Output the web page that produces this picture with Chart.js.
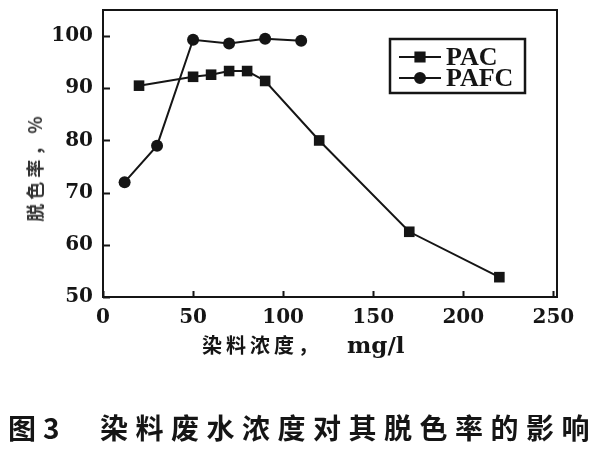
<!DOCTYPE html>
<html>
<head>
<meta charset="utf-8">
<script src="https://cdn.jsdelivr.net/npm/chart.js@4/dist/chart.umd.min.js"></script>
<style>
html, body { margin: 0; padding: 0; background: #fff; }
#wrap { position: relative; width: 600px; height: 450px; overflow: hidden; }
#grafico { position: absolute; left: 0; top: 0; }
.testo { position: absolute; font-family: "Noto Sans CJK SC", sans-serif; font-weight: bold; color: #151515; white-space: nowrap; }
.latino { font-family: "DejaVu Serif", serif; font-size: 23px; letter-spacing: 0; margin-left: 25px; }
#titoloX { left: 202px; top: 331px; font-size: 20px; line-height: 28px; letter-spacing: 4px; }
#titoloY { left: 34px; top: 167px; font-size: 18px; line-height: 24px; letter-spacing: 4px; color: #333;
           transform: translate(-50%, -50%) rotate(-90deg); }
#didascalia { left: 8px; top: 412px; font-size: 28px; line-height: 30px; letter-spacing: 7px; }
#didascalia2 { left: 100px; top: 412px; font-size: 28px; line-height: 30px; letter-spacing: 7.5px; }
</style>
</head>
<body>
<div id="wrap">
  <canvas id="grafico" width="600" height="450"></canvas>
  <div class="testo" id="titoloX">染料浓度，<span class="latino">mg/l</span></div>
  <div class="testo" id="titoloY">脱色率，%</div>
  <div class="testo" id="didascalia">图3</div>
  <div class="testo" id="didascalia2">染料废水浓度对其脱色率的影响</div>
</div>
<script>
// concentrazione colorante (mg/l) e tasso di decolorazione (%)
const pacConc = [20, 50, 60, 70, 80, 90, 120, 170, 220];
const pacRate = [90.5, 92.2, 92.6, 93.3, 93.3, 91.4, 80.0, 62.5, 53.8];
const pafcConc = [12, 30, 50, 70, 90, 110];
const pafcRate = [72.0, 79.0, 99.3, 98.6, 99.5, 99.1];
const xTicks = [0, 50, 100, 150, 200, 250];
const yTicks = [50, 60, 70, 80, 90, 100];

const nero = '#151515';

function punti(xs, ys) {
    return xs.map((x, i) => ({ x: x, y: ys[i] }));
}

// cornice, tacche interne e legenda disegnate a mano
const cornice = {
    id: 'cornice',
    afterDatasetsDraw(chart) {
        const ctx = chart.ctx;
        const a = chart.chartArea;
        const sx = chart.scales.x, sy = chart.scales.y;
        ctx.save();
        ctx.strokeStyle = nero;
        ctx.lineWidth = 2;
        ctx.strokeRect(a.left, a.top, a.right - a.left, a.bottom - a.top);

        ctx.beginPath();
        xTicks.forEach(v => {
            const px = Math.round(sx.getPixelForValue(v)) + 0.5;
            ctx.moveTo(px, a.bottom);
            ctx.lineTo(px, a.bottom - 6);
        });
        yTicks.forEach(v => {
            const py = Math.round(sy.getPixelForValue(v)) + 0.5;
            ctx.moveTo(a.left, py);
            ctx.lineTo(a.left + 7, py);
        });
        ctx.stroke();

        // legenda
        const lx = a.right - 167, ly = a.top + 29;
        ctx.lineWidth = 2.5;
        ctx.strokeRect(lx, ly, 135, 54);
        ctx.font = "bold 26px 'Liberation Serif', serif";
        ctx.textBaseline = 'middle';
        ctx.fillStyle = nero;
        chart.data.datasets.forEach((ds, i) => {
            const y = ly + 18 + i * 21;
            ctx.lineWidth = 2;
            ctx.beginPath();
            ctx.moveTo(lx + 9, y);
            ctx.lineTo(lx + 51, y);
            ctx.stroke();
            Chart.helpers.drawPoint(ctx, { pointStyle: ds.pointStyle, radius: ds.pointRadius - 1, borderWidth: 1 }, lx + 30, y);
            ctx.fillText(ds.label, lx + 56, y + 1);
        });
        ctx.restore();
    }
};

const ctx = document.getElementById('grafico').getContext('2d');
new Chart(ctx, {
    type: 'line',
    data: {
        datasets: [{
            label: 'PAC',
            data: punti(pacConc, pacRate),
            borderColor: nero,
            backgroundColor: nero,
            borderWidth: 2,
            pointStyle: 'rect',
            pointRadius: 7.5,
            pointBorderWidth: 0
        }, {
            label: 'PAFC',
            data: punti(pafcConc, pafcRate),
            borderColor: nero,
            backgroundColor: nero,
            borderWidth: 2,
            pointStyle: 'circle',
            pointRadius: 6,
            pointBorderWidth: 0
        }]
    },
    options: {
        responsive: false,
        animation: false,
        layout: { padding: { left: 0, right: 43, top: 10, bottom: 0 } },
        plugins: {
            legend: { display: false },
            tooltip: { enabled: false }
        },
        scales: {
            x: {
                type: 'linear',
                min: 0,
                max: 252,
                afterBuildTicks: s => { s.ticks = xTicks.map(v => ({ value: v })); },
                afterFit: s => { s.height = 153; s.paddingLeft = 0; s.paddingRight = 0; },
                grid: { display: false, drawTicks: false, tickLength: 0 },
                border: { display: false },
                ticks: {
                    padding: 9,
                    color: nero,
                    font: { family: "'DejaVu Serif', serif", size: 20, weight: 'bold' }
                }
            },
            y: {
                min: 50,
                max: 105,
                afterBuildTicks: s => { s.ticks = yTicks.map(v => ({ value: v })); },
                afterFit: s => { s.width = 103; s.paddingTop = 0; s.paddingBottom = 0; },
                grid: { display: false, drawTicks: false, tickLength: 0 },
                border: { display: false },
                ticks: {
                    padding: 10,
                    color: nero,
                    font: { family: "'DejaVu Serif', serif", size: 20, weight: 'bold' }
                }
            }
        }
    },
    plugins: [cornice]
});
</script>
</body>
</html>
